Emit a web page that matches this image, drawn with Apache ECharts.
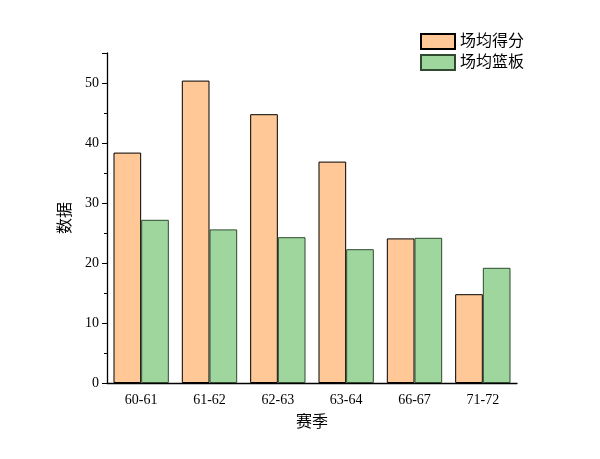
<!DOCTYPE html>
<html><head><meta charset="utf-8">
<script src="https://cdn.jsdelivr.net/npm/echarts@6/dist/echarts.min.js"></script>
<style>html,body{margin:0;padding:0;background:#fff}#c{width:600px;height:459px}</style>
</head><body><div id="c"></div>
<script>
var categories = ['60-61','61-62','62-63','63-64','66-67','71-72'];
var points = [38.4, 50.4, 44.8, 36.9, 24.1, 14.8];
var rebounds = [27.2, 25.6, 24.3, 22.3, 24.2, 19.2];
var seriesNames = ['场均得分','场均篮板'];
var font = '"Liberation Serif","DejaVu Serif","Noto Sans CJK SC",serif';
var chart = echarts.init(document.getElementById('c'));
chart.setOption({
  animation:false,
  backgroundColor:'#fff',
  textStyle:{fontFamily:font},
  grid:{left:107,right:83,top:53,bottom:76},
  legend:{
    orient:'vertical', left:415, top:28, itemWidth:34, itemHeight:15, itemGap:4,
    icon:'rect',
    textStyle:{fontSize:16,color:'#000',fontFamily:font},
    data:seriesNames
  },
  xAxis:{
    type:'category', data:categories,
    name:'赛季', nameLocation:'middle', nameGap:32,
    nameTextStyle:{fontSize:16,color:'#000',fontFamily:font},
    axisLine:{lineStyle:{color:'#000',width:1.3}},
    axisTick:{show:false},
    axisLabel:{fontSize:14,color:'#000',margin:10,fontFamily:font}
  },
  yAxis:{
    type:'value', min:0, max:55, interval:10,
    name:'数据', nameLocation:'middle', nameGap:24,
    nameTextStyle:{fontSize:16,color:'#000',fontFamily:font},
    axisLine:{show:true,lineStyle:{color:'#000',width:1.3}},
    axisTick:{show:true,length:5,lineStyle:{color:'#000'}},
    minorTick:{show:true,splitNumber:2,length:3,lineStyle:{color:'#000'}},
    splitLine:{show:false},
    axisLabel:{fontSize:14,color:'#000',margin:8,fontFamily:font,showMaxLabel:false}
  },
  series:[
    {name:seriesNames[0],type:'bar',data:points,barGap:'0%',barCategoryGap:'19%',
     itemStyle:{color:'#FFC896',borderColor:'#000',borderWidth:1}},
    {name:seriesNames[1],type:'bar',data:rebounds,barGap:'0%',barCategoryGap:'19%',
     itemStyle:{color:'#9ED69E',borderColor:'#2f4a2f',borderWidth:1}}
  ]
});
</script></body></html>
